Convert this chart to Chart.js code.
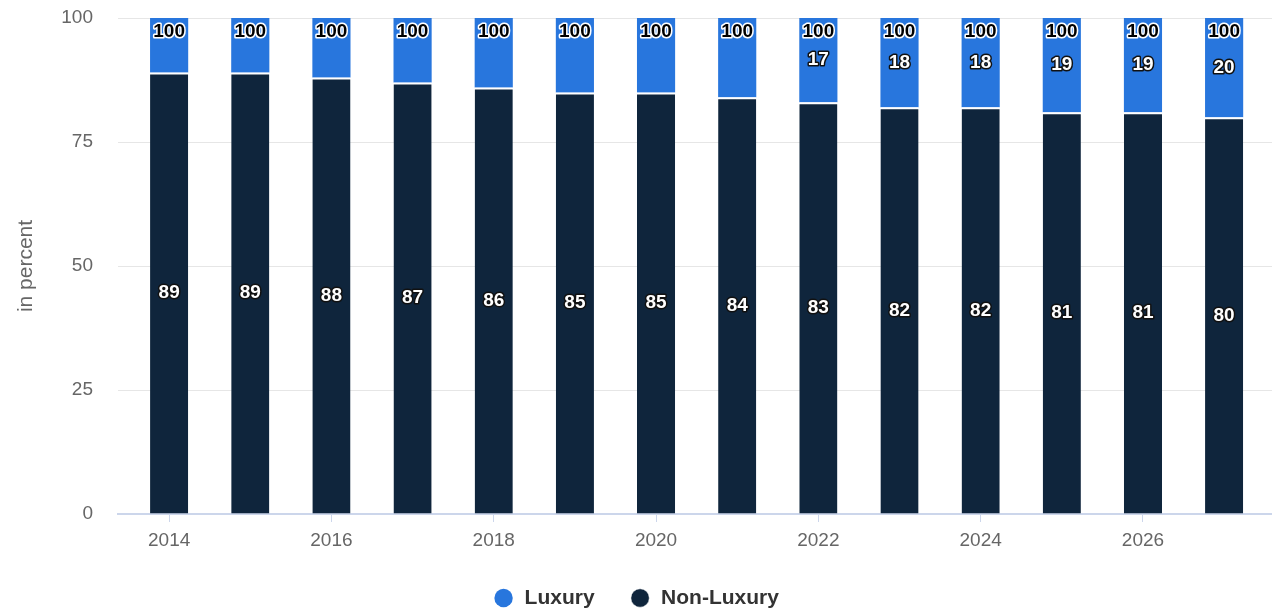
<!DOCTYPE html>
<html>
<head>
<meta charset="utf-8">
<script src="https://cdn.jsdelivr.net/npm/chart.js@4"></script>
<style>
  html, body { margin: 0; padding: 0; background: #fff; }
  #wrap { width: 1272px; height: 612px; }
</style>
</head>
<body>
<div id="wrap"><canvas id="share-chart"></canvas></div>
<script>
// data
const years = [2014, 2015, 2016, 2017, 2018, 2019, 2020, 2021, 2022, 2023, 2024, 2025, 2026, 2027];
const nonLuxury = [89, 89, 88, 87, 86, 85, 85, 84, 83, 82, 82, 81, 81, 80];
const luxury = [11, 11, 12, 13, 14, 15, 15, 16, 17, 18, 18, 19, 19, 20];
const yTicks = [0, 25, 50, 75, 100];
const xTicks = [2014, 2016, 2018, 2020, 2022, 2024, 2026];

const FONT = "'Liberation Sans', Arial, sans-serif";

//labels inside the bars + total on top
const barLabels = {
    id: 'barLabels',
    afterDatasetsDraw(chart) {
        const ctx = chart.ctx;
        const darkMeta = chart.getDatasetMeta(0);
        const blueMeta = chart.getDatasetMeta(1);
        ctx.save();
        ctx.textAlign = 'center';
        ctx.textBaseline = 'middle';
        ctx.lineJoin = 'round';
        ctx.font = 'bold 19px ' + FONT;
        ctx.lineWidth = 3;
        years.forEach((yr, i) => {
            const dark = darkMeta.data[i];
            const blue = blueMeta.data[i];
            const total = nonLuxury[i] + luxury[i];
            const topY = blue.y + 14;
            // total
            ctx.strokeStyle = '#fff';
            ctx.fillStyle = '#000';
            ctx.strokeText(total, blue.x, topY);
            ctx.fillText(total, blue.x, topY);
            // luxury, only if there is room under the total
            const midBlue = (blue.y + blue.base) / 2;
            if (midBlue - topY > 26.5) {
                ctx.strokeStyle = '#111';
                ctx.fillStyle = '#fff';
                ctx.strokeText(luxury[i], blue.x, midBlue);
                ctx.fillText(luxury[i], blue.x, midBlue);
            }
            // non luxury
            const midDark = (dark.y + dark.base) / 2;
            ctx.strokeStyle = '#111';
            ctx.fillStyle = '#fff';
            ctx.strokeText(nonLuxury[i], dark.x, midDark);
            ctx.fillText(nonLuxury[i], dark.x, midDark);
        });
        ctx.restore();
    }
};

const chartData = {
    datasets: [
        {
            label: 'Non-Luxury',
            data: years.map((y, i) => ({ x: y, y: nonLuxury[i] })),
            backgroundColor: '#0f253c',
            borderColor: '#ffffff',
            borderWidth: { top: 2, left: 0, right: 0, bottom: 0 },
            borderSkipped: false,
            barPercentage: 1,
            categoryPercentage: 0.47
        },
        {
            label: 'Luxury',
            data: years.map((y, i) => ({ x: y, y: luxury[i] })),
            backgroundColor: '#2876dd',
            borderWidth: 0,
            barPercentage: 1,
            categoryPercentage: 0.47
        }
    ]
};

const options = {
    responsive: true,
    maintainAspectRatio: false,
    animation: false,
    layout: { padding: { top: 18, right: 0, left: 0, bottom: -6.5 } },
    scales: {
        x: {
            type: 'linear',
            stacked: true,
            offset: false,
            min: 2013.37,
            max: 2027.59,
            afterBuildTicks: scale => { scale.ticks = xTicks.map(v => ({ value: v })); },
            afterFit: scale => { scale.height = 38.5; },
            ticks: {
                callback: v => String(v),
                color: '#666',
                font: { family: FONT, size: 19 },
                padding: 7,
                maxRotation: 0
            },
            grid: { offset: false, drawOnChartArea: false, drawTicks: true, tickLength: 8, color: '#ccd6eb' },
            border: { color: '#ccd6eb', width: 2 }
        },
        y: {
            stacked: true,
            min: 0,
            max: 100,
            afterBuildTicks: scale => { scale.ticks = yTicks.map(v => ({ value: v })); },
            afterFit: scale => { scale.width = 118; },
            ticks: {
                color: '#666',
                font: { family: FONT, size: 19 },
                padding: 3
            },
            grid: { color: '#e6e6e6', drawTicks: true, tickLength: 22, tickColor: 'rgba(0,0,0,0)' },
            border: { display: false },
            title: {
                display: true,
                text: 'in percent',
                color: '#666',
                font: { family: FONT, size: 21 },
                padding: { top: 14, bottom: 0 }
            }
        }
    },
    plugins: {
        legend: {
            position: 'bottom',
            labels: {
                usePointStyle: true,
                pointStyle: 'circle',
                boxWidth: 21,
                boxHeight: 13,
                padding: 35,
                color: '#333',
                font: { family: FONT, size: 21, weight: 'bold' },
                sort: (a, b) => b.datasetIndex - a.datasetIndex
            }
        },
        tooltip: { enabled: false }
    }
};

const shareChart = new Chart(document.getElementById('share-chart'), {
    type: 'bar',
    data: chartData,
    options: options,
    plugins: [barLabels]
});
</script>
</body>
</html>
